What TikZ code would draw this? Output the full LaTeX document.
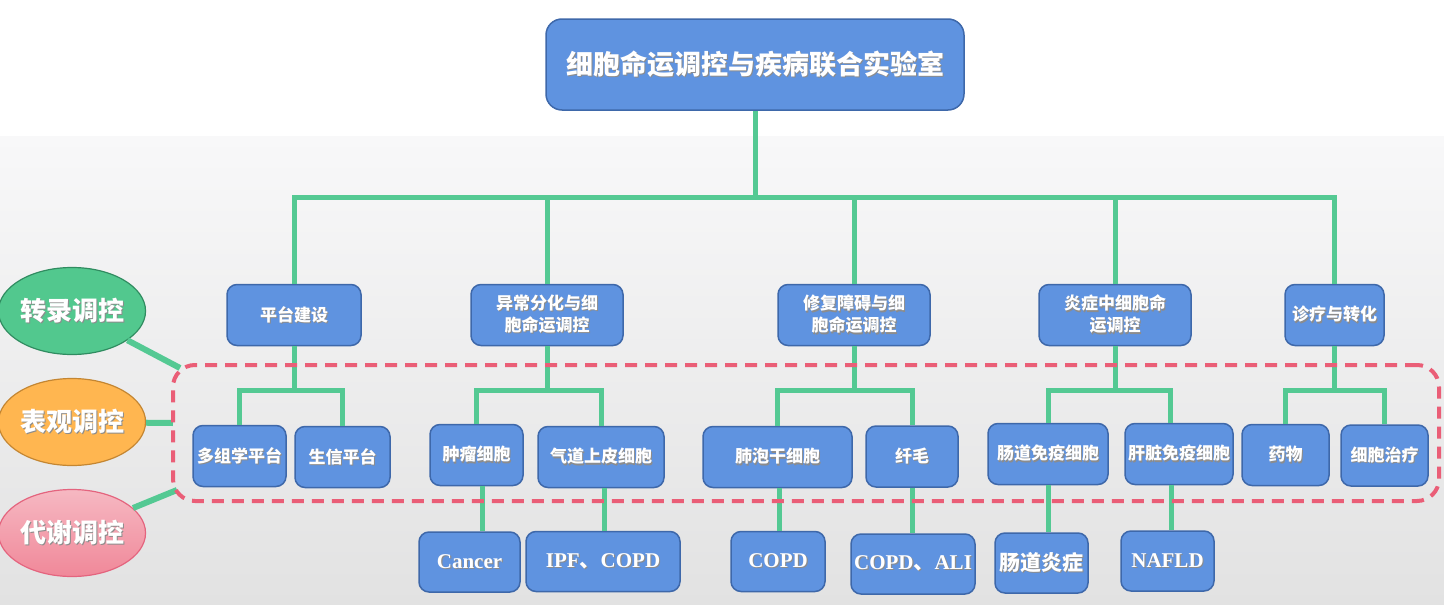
\documentclass[tikz,border=0pt]{standalone}
\usepackage{fontspec}
\usepackage{xcolor}
\usepackage{tikz}
\usetikzlibrary{shapes.geometric, positioning, calc}
\setmainfont{Noto Sans CJK SC}
\newfontfamily\tms{Liberation Serif}
\definecolor{boxcolor}{RGB}{95, 147, 224}
\definecolor{boxedge}{RGB}{62, 104, 170}
\definecolor{linkcolor}{RGB}{84, 201, 147}
\definecolor{dashcolor}{RGB}{234, 94, 119}
\definecolor{transcolor}{RGB}{82, 200, 142}
\definecolor{transedge}{RGB}{48, 140, 96}
\definecolor{epicolor}{RGB}{255, 182, 80}
\definecolor{epiedge}{RGB}{196, 134, 50}
\definecolor{metatop}{RGB}{246, 184, 194}
\definecolor{metabot}{RGB}{240, 136, 153}
\definecolor{metaedge}{RGB}{228, 100, 126}
\newcommand{\shd}[1]{\makebox[0pt][l]{\hspace{1.2pt}\raisebox{-1.2pt}{\textcolor{black!45}{#1}}}#1}

\begin{document}
\begin{tikzpicture}[
    x=1pt, y=-1pt,
    topbox/.style={rectangle, rounded corners=16pt, draw=boxedge, line width=1.5pt, fill=boxcolor,
                   text=white, font=\bfseries\fontsize{27}{32}\selectfont, minimum width=418pt, minimum height=91pt},
    unitbox/.style={rectangle, rounded corners=10pt, draw=boxedge, line width=1.5pt, fill=boxcolor,
                    text=white, font=\bfseries\fontsize{17}{22}\selectfont, align=center, minimum height=61pt, inner sep=0pt},
    diseasebox/.style={unitbox, minimum height=60pt, font=\tms\bfseries\fontsize{21}{24}\selectfont},
    regnode/.style={ellipse, line width=1.2pt, minimum width=143pt, minimum height=87pt, inner sep=0pt,
                    text=white, font=\bfseries\fontsize{26}{30}\selectfont},
    link/.style={linkcolor, line width=5pt},
    tie/.style={linkcolor, line width=6pt}
]
\useasboundingbox (0,0) rectangle (1444,605);

% Background
\fill[white] (0,0) rectangle (1444,136);
\shade[top color={rgb,255:red,248;green,248;blue,249}, bottom color={rgb,255:red,226;green,226;blue,226}] (0,136) rectangle (1444,605);

% Lab box
\node[topbox] (title) at (755,64.5) {\shd{细胞命运调控与疾病联合实验室}};

% Research directions
\node[unitbox, minimum width=134pt] (plat) at (294,315) {\shd{平台建设}};
\node[unitbox, minimum width=152pt] (abn) at (547,315) {\shd{异常分化与细}\\\shd{胞命运调控}};
\node[unitbox, minimum width=152pt] (rep) at (854,315) {\shd{修复障碍与细}\\\shd{胞命运调控}};
\node[unitbox, minimum width=152pt] (infl) at (1115,315) {\shd{炎症中细胞命}\\\shd{运调控}};
\node[unitbox, minimum width=99pt] (diag) at (1334.5,315) {\shd{诊疗与转化}};

% Cells and platforms
\node[unitbox, minimum width=93pt] (omics) at (239.5,456) {\shd{多组学平台}};
\node[unitbox, minimum width=95pt] (bioinf) at (342.5,457) {\shd{生信平台}};
\node[unitbox, minimum width=93pt] (tumor) at (476.5,455) {\shd{肿瘤细胞}};
\node[unitbox, minimum width=126pt] (airway) at (601,457) {\shd{气道上皮细胞}};
\node[unitbox, minimum width=149pt] (alv) at (777.5,457) {\shd{肺泡干细胞}};
\node[unitbox, minimum width=92pt] (cilia) at (912,456.5) {\shd{纤毛}};
\node[unitbox, minimum width=120pt] (gut) at (1048,454) {\shd{肠道免疫细胞}};
\node[unitbox, minimum width=108pt] (liver) at (1179,454) {\shd{肝脏免疫细胞}};
\node[unitbox, minimum width=87pt] (drug) at (1285.5,455) {\shd{药物}};
\node[unitbox, minimum width=87pt] (cell) at (1384.5,455.5) {\shd{细胞治疗}};

% Diseases
\node[diseasebox, minimum width=101pt] (cancer) at (469.5,562) {\shd{Cancer}};
\node[diseasebox, minimum width=154pt] (ipf) at (603,561.5) {\shd{IPF{\normalfont\bfseries 、}COPD}};
\node[diseasebox, minimum width=94pt] (copd) at (778,561.5) {\shd{COPD}};
\node[diseasebox, minimum width=124pt] (copdali) at (913,564) {\shd{COPD{\normalfont\bfseries 、}ALI}};
\node[diseasebox, minimum width=93pt, font=\bfseries\fontsize{21}{24}\selectfont] (ibd) at (1041.5,563) {\shd{肠道炎症}};
\node[diseasebox, minimum width=93pt] (nafld) at (1167.5,561) {\shd{NAFLD}};

% Regulation ellipses
\node[regnode, draw=transedge, fill=transcolor] (trans) at (72,311) {\shd{转录调控}};
\node[regnode, draw=epiedge, fill=epicolor] (epi) at (72,422) {\shd{表观调控}};
\node[regnode, draw=metaedge, top color=metatop, bottom color=metabot] (meta) at (72,533) {\shd{代谢调控}};

% Tree links
\coordinate (hub) at (755,197);
\draw[link] (title.south) -- (hub);
\foreach \n in {plat,abn,rep,infl,diag}
    \draw[link] (hub) -| (\n.north);
\foreach \p/\a/\b in {plat/omics/bioinf, abn/tumor/airway, rep/alv/cilia, diag/drug/cell} {
    \draw[link] (\p.south) -- ++(0,44.5) -| (\a.north);
    \draw[link] (\p.south) -- ++(0,44.5) -| (\b.north);
}
\draw[link] (infl.south) -- ++(0,44.5) -| (gut.north);
\draw[link] (infl.south) -- ++(0,44.5) -| ([xshift=-9pt]liver.north);

\draw[link] ([xshift=6pt]tumor.south) -- ([xshift=6pt]tumor.south |- cancer.north);
\draw[link] ([xshift=3pt]airway.south) -- ([xshift=3pt]airway.south |- ipf.north);
\draw[link] ([xshift=1.5pt]alv.south) -- ([xshift=1.5pt]alv.south |- copd.north);
\draw[link] (cilia.south) -- (cilia.south |- copdali.north);
\draw[link] (gut.south) -- (gut.south |- ibd.north);
\draw[link] ([xshift=-8pt]liver.south) -- ([xshift=-8pt]liver.south |- nafld.north);

% Ellipse ties
\coordinate (tapT) at (180,368);
\coordinate (tapE) at (173,423);
\coordinate (tapM) at (177,490);
\draw[tie] (trans) -- (tapT);
\draw[tie] (epi) -- (tapE);
\draw[tie] (meta) -- (tapM);

% Dashed band
\node[draw=dashcolor, line width=4pt, dash pattern=on 12pt off 8pt, rounded corners=22pt,
      minimum width=1266pt, minimum height=136pt] (band) at (806,433) {};

\end{tikzpicture}
\end{document}
